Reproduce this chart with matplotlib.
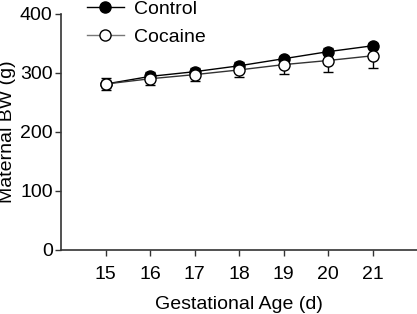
import matplotlib
matplotlib.use('Agg')
import matplotlib.pyplot as plt
from matplotlib.lines import Line2D
import numpy as np

plt.rcParams['font.family'] = ['Liberation Sans', 'DejaVu Sans']

# ── Data ──────────────────────────────────────────────────────────────────────
days = [15, 16, 17, 18, 19, 20, 21]
control_mean = [281, 294, 302, 312, 324, 336, 346]
control_err = [11, 8, 7, 6, 5, 7, 4]      # upper error only
cocaine_mean = [281, 290, 297, 305, 314, 321, 329]
cocaine_err = [10, 11, 10, 12, 16, 19, 21]  # lower error only

FS = 14

fig = plt.figure(figsize=(4.17, 3.14), dpi=100)
ax = fig.add_axes([61 / 417, (314 - 249.5) / 314, (417 - 61) / 417, (249.5 - 14) / 314])

zeros = np.zeros(len(days))
ax.errorbar(days, control_mean, yerr=[zeros, control_err], color='black',
            marker='o', markersize=8, markerfacecolor='black', markeredgecolor='black',
            linewidth=1.0, elinewidth=1.0, capsize=3.5, capthick=1.0,
            zorder=3, clip_on=False)
ax.errorbar(days, cocaine_mean, yerr=[cocaine_err, zeros], color='#333333',
            marker='o', markersize=8, markerfacecolor='white', markeredgecolor='black',
            linewidth=1.0, elinewidth=1.0, ecolor='black', capsize=3.5, capthick=1.0,
            zorder=4, clip_on=False)

ax.set_xlim(14, 22)
ax.set_ylim(0, 400)
ax.set_xticks(days)
ax.set_yticks([0, 100, 200, 300, 400])
ax.tick_params(axis='both', labelsize=FS, length=4, width=1.0, color='#333333', pad=2)
ax.tick_params(axis='x', pad=8)
for s in ['top', 'right']:
    ax.spines[s].set_visible(False)
for s in ['left', 'bottom']:
    ax.spines[s].set_linewidth(1.2)
    ax.spines[s].set_color('#333333')

ax.set_xlabel('Gestational Age (d)', fontsize=FS, labelpad=9)
ax.set_ylabel('Maternal BW (g)', fontsize=FS, labelpad=3)

handles = [
    Line2D([], [], color='black', marker='o', markersize=8,
           markerfacecolor='black', markeredgecolor='black', linewidth=1.0),
    Line2D([], [], color='#777777', marker='o', markersize=8,
           markerfacecolor='white', markeredgecolor='black', linewidth=1.0),
]
fig.legend(handles, ['Control', 'Cocaine'], loc='upper left',
           bbox_to_anchor=(87 / 417, 1.0), frameon=False, fontsize=FS,
           handlelength=1.9, handletextpad=0.5, labelspacing=0.55,
           borderpad=0, borderaxespad=0)

fig.savefig('out.png', dpi=100)
